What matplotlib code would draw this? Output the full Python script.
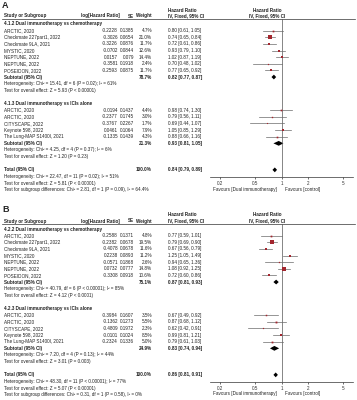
import numpy as np
import matplotlib
matplotlib.use("Agg")
import matplotlib.pyplot as plt

plt.rcParams['font.family'] = ['Liberation Sans', 'DejaVu Sans']

#---------------------------------- data: panel A ----------------------------------
a_grp1_title = "4.1.2 Dual immunotherapy vs chemotherapy"
a_grp1_study = ["ARCTIC, 2020", "Checkmate 227part1, 2022", "Checkmate 9LA, 2021", "MYSTIC, 2020",
                "NEPTUNE, 2022", "NEPTUNE, 2022", "POSEIDON, 2022"]
a_grp1_loghr = ["-0.2228", "-0.3026", "-0.3226", "-0.0702", "0.0157", "-0.3581", "-0.2593"]
a_grp1_se = ["0.1385", "0.0654", "0.0876", "0.0844", "0.079", "0.1918", "0.0875"]
a_grp1_w = [4.7, 21.0, 11.7, 12.6, 14.4, 2.4, 11.7]
a_grp1_hr = [0.80, 0.74, 0.72, 0.93, 1.02, 0.70, 0.77]
a_grp1_lo = [0.61, 0.65, 0.61, 0.79, 0.87, 0.48, 0.65]
a_grp1_hi = [1.05, 0.84, 0.86, 1.10, 1.19, 1.02, 0.92]
a_grp1_sub = (78.7, 0.82, 0.77, 0.87)
a_grp1_het = ["Heterogeneity: Chi² = 15.41, df = 6 (P = 0.02); I² = 61%",
              "Test for overall effect: Z = 5.93 (P < 0.00001)"]

a_grp2_title = "4.1.3 Dual immunotherapy vs ICIs alone"
a_grp2_study = ["ARCTIC, 2020", "ARCTIC, 2020", "CITYSCAPE, 2022", "Keynote 598, 2022",
                "The Lung-MAP S1400I, 2021"]
a_grp2_loghr = ["-0.0194", "-0.2377", "-0.3767", "0.0461", "-0.1335"]
a_grp2_se = ["0.1437", "0.1745", "0.2267", "0.1064", "0.1439"]
a_grp2_w = [4.4, 3.0, 1.7, 7.9, 4.3]
a_grp2_hr = [0.98, 0.79, 0.69, 1.05, 0.88]
a_grp2_lo = [0.74, 0.56, 0.44, 0.85, 0.66]
a_grp2_hi = [1.30, 1.11, 1.07, 1.29, 1.16]
a_grp2_sub = (21.3, 0.93, 0.81, 1.05)
a_grp2_het = ["Heterogeneity: Chi² = 4.25, df = 4 (P = 0.37); I² = 6%",
              "Test for overall effect: Z = 1.20 (P = 0.23)"]

a_total = (100.0, 0.84, 0.79, 0.89)
a_total_het = ["Heterogeneity: Chi² = 22.47, df = 11 (P = 0.02); I² = 51%",
               "Test for overall effect: Z = 5.81 (P < 0.00001)",
               "Test for subgroup differences: Chi² = 2.81, df = 1 (P = 0.09), I² = 64.4%"]

#---------------------------------- data: panel B ----------------------------------
b_grp1_title = "4.2.2 Dual immunotherapy vs chemotherapy"
b_grp1_study = ["ARCTIC, 2020", "Checkmate 227part1, 2022", "Checkmate 9LA, 2021", "MYSTIC, 2020",
                "NEPTUNE, 2022", "NEPTUNE, 2022", "POSEIDON, 2022"]
b_grp1_loghr = ["-0.2588", "-0.2382", "-0.4078", "0.2238", "-0.0571", "0.0732", "-0.3308"]
b_grp1_se = ["0.1371", "0.0678", "0.0678", "0.0893", "0.1868", "0.0777", "0.0918"]
b_grp1_w = [4.8, 19.5, 11.6, 11.2, 2.6, 14.8, 10.6]
b_grp1_hr = [0.77, 0.79, 0.67, 1.25, 0.94, 1.08, 0.72]
b_grp1_lo = [0.59, 0.69, 0.56, 1.05, 0.65, 0.92, 0.60]
b_grp1_hi = [1.01, 0.90, 0.79, 1.49, 1.36, 1.25, 0.86]
b_grp1_sub = (75.1, 0.87, 0.81, 0.93)
b_grp1_het = ["Heterogeneity: Chi² = 40.79, df = 6 (P < 0.00001); I² = 85%",
              "Test for overall effect: Z = 4.12 (P < 0.0001)"]

b_grp2_title = "4.2.3 Dual immunotherapy vs ICIs alone"
b_grp2_study = ["ARCTIC, 2020", "ARCTIC, 2020", "CITYSCAPE, 2022", "Keynote 598, 2022",
                "The Lung-MAP S1400I, 2021"]
b_grp2_loghr = ["-0.3984", "-0.1362", "-0.4809", "-0.0101", "-0.2324"]
b_grp2_se = ["0.1607", "0.1273", "0.1972", "0.1024", "0.1336"]
b_grp2_w = [3.5, 5.5, 2.3, 8.5, 5.0]
b_grp2_hr = [0.67, 0.87, 0.62, 0.99, 0.79]
b_grp2_lo = [0.49, 0.68, 0.42, 0.81, 0.61]
b_grp2_hi = [0.92, 1.12, 0.91, 1.21, 1.03]
b_grp2_sub = (24.9, 0.83, 0.74, 0.94)
b_grp2_het = ["Heterogeneity: Chi² = 7.20, df = 4 (P = 0.13); I² = 44%",
              "Test for overall effect: Z = 3.01 (P = 0.003)"]

b_total = (100.0, 0.86, 0.81, 0.91)
b_total_het = ["Heterogeneity: Chi² = 48.30, df = 11 (P < 0.00001); I² = 77%",
               "Test for overall effect: Z = 5.07 (P < 0.00001)",
               "Test for subgroup differences: Chi² = 0.31, df = 1 (P = 0.58), I² = 0%"]

tick_vals = [0.2, 0.5, 1, 2, 5]
tick_labels = ["0.2", "0.5", "1", "2", "5"]

W, H = 357, 400
FS = 3.3
TXT = "#222222"
SQ = "#a3262e"
CI_COL = "#6a6a6a"
STEP = 6.63

fig = plt.figure(figsize=(W / 100, H / 100), dpi=100)
ax = fig.add_axes([0, 0, 1, 1])
ax.set_xlim(0, W)
ax.set_ylim(H, 0)
ax.axis("off")


def txt(x, y, s, ha="left", bold=False, size=FS):
    ax.text(x, y, s, ha=ha, va="center", fontsize=size, color=TXT,
            fontweight="bold" if bold else "normal")


def ci_str(hr, lo, hi):
    return f"{hr:.2f} [{lo:.2f}, {hi:.2f}]"


def draw_panel(off, letter, groups, total, total_het):
    txt(2, off + 5, letter, bold=True, size=6.5)
    # headers
    txt(168, off + 10, "Hazard Ratio", bold=True)
    txt(267, off + 10, "Hazard Ratio", ha="center", bold=True)
    txt(4, off + 16, "Study or Subgroup", bold=True)
    txt(120, off + 16, "log[Hazard Ratio]", ha="right", bold=True)
    txt(134, off + 16, "SE", ha="right", bold=True)
    txt(152, off + 16, "Weight", ha="right", bold=True)
    txt(168, off + 16, "IV, Fixed, 95% CI", bold=True)
    txt(267, off + 16, "IV, Fixed, 95% CI", ha="center", bold=True)
    ax.plot([2, 355], [off + 19.2, off + 19.2], color="#333333", lw=0.5)

    # forest axes in the same pixel rows
    y_top, y_bot = off + 19.2, off + 177
    fx = fig.add_axes([210 / W, 1 - y_bot / H, (353 - 210) / W, (y_bot - y_top) / H])
    fx.set_xscale("log")
    fx.set_xlim(0.155, 6.45)
    fx.set_ylim(y_bot, y_top)
    fx.patch.set_alpha(0)
    for s in ["top", "left", "right"]:
        fx.spines[s].set_visible(False)
    fx.spines["bottom"].set_linewidth(0.5)
    fx.spines["bottom"].set_color("#333333")
    fx.set_yticks([])
    fx.set_xticks(tick_vals)
    fx.set_xticklabels(tick_labels)
    fx.minorticks_off()
    fx.tick_params(axis="x", labelsize=FS, length=1.5, width=0.5, pad=1.5, colors="#333333")
    fx.axvline(1, color="#555555", lw=0.5)

    def diamond(y, hr, lo, hi):
        fx.fill([lo, hr, hi, hr], [y, y - 2.4, y, y + 2.4], color="black", lw=0)

    row = 0
    for title, study, loghr, se, w, hr, lo, hi, sub, het in groups:
        y = off + 24 + STEP * row
        txt(4, y, title, bold=True)
        row += 1
        for i in range(len(study)):
            y = off + 24 + STEP * row
            txt(4, y, study[i])
            txt(118, y, loghr[i], ha="right")
            txt(134, y, se[i], ha="right")
            txt(152, y, f"{w[i]:.1f}%", ha="right")
            txt(168, y, ci_str(hr[i], lo[i], hi[i]))
            fx.plot([lo[i], hi[i]], [y, y], color=CI_COL, lw=0.5)
            fx.plot(hr[i], y, marker="s", color=SQ, markersize=max(0.8, 2.6 * np.sqrt(w[i] / 21.0)),
                    markeredgewidth=0)
            row += 1
        y = off + 24 + STEP * row
        txt(4, y, "Subtotal (95% CI)", bold=True)
        txt(152, y, f"{sub[0]:.1f}%", ha="right", bold=True)
        txt(168, y, ci_str(*sub[1:]), bold=True)
        diamond(y, sub[1], sub[2], sub[3])
        row += 1
        for line in het:
            txt(4, off + 24 + STEP * row, line)
            row += 1
        row += 1

    y = off + 24 + STEP * row
    txt(4, y, "Total (95% CI)", bold=True)
    txt(152, y, f"{total[0]:.1f}%", ha="right", bold=True)
    txt(168, y, ci_str(*total[1:]), bold=True)
    diamond(y, total[1], total[2], total[3])
    row += 1
    for line in total_het:
        txt(4, off + 24 + STEP * row, line)
        row += 1

    txt(277, off + 189, "Favours [Dual immunotherapy]", ha="right")
    txt(285, off + 189, "Favours [control]")


draw_panel(0, "A",
           [(a_grp1_title, a_grp1_study, a_grp1_loghr, a_grp1_se, a_grp1_w, a_grp1_hr, a_grp1_lo, a_grp1_hi,
             a_grp1_sub, a_grp1_het),
            (a_grp2_title, a_grp2_study, a_grp2_loghr, a_grp2_se, a_grp2_w, a_grp2_hr, a_grp2_lo, a_grp2_hi,
             a_grp2_sub, a_grp2_het)],
           a_total, a_total_het)

draw_panel(205, "B",
           [(b_grp1_title, b_grp1_study, b_grp1_loghr, b_grp1_se, b_grp1_w, b_grp1_hr, b_grp1_lo, b_grp1_hi,
             b_grp1_sub, b_grp1_het),
            (b_grp2_title, b_grp2_study, b_grp2_loghr, b_grp2_se, b_grp2_w, b_grp2_hr, b_grp2_lo, b_grp2_hi,
             b_grp2_sub, b_grp2_het)],
           b_total, b_total_het)

fig.savefig("out.png", dpi=100)
